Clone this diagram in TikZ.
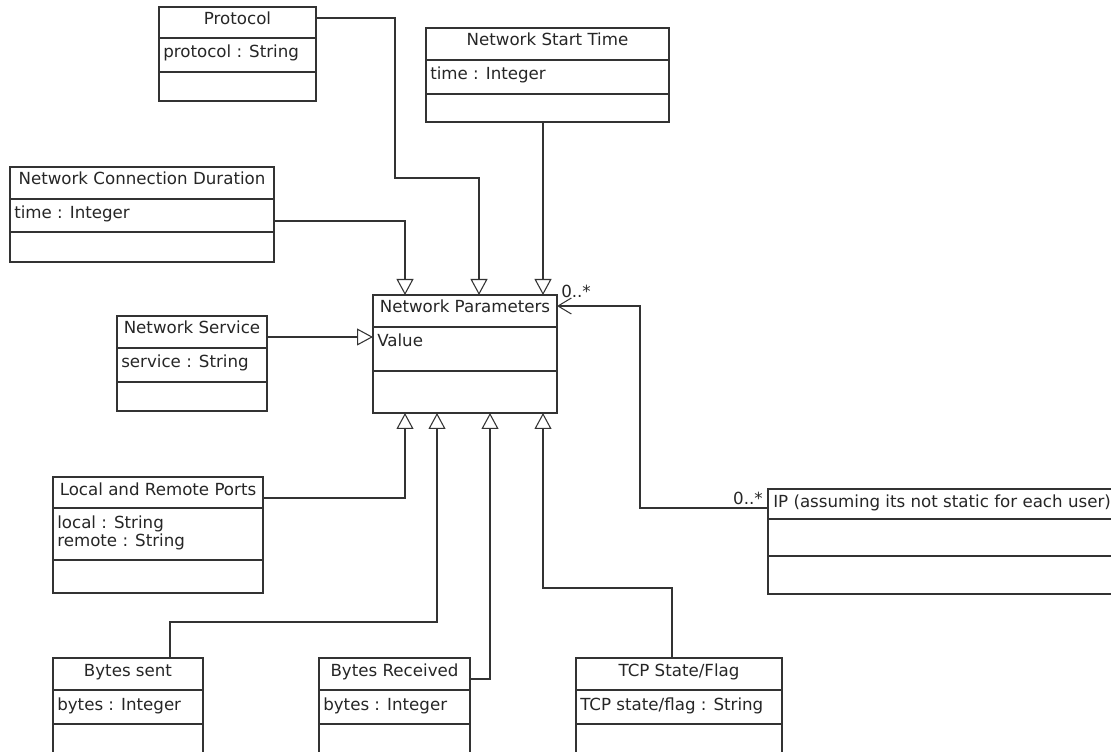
\documentclass[tikz,border=0pt]{standalone}
\usepackage{fontspec}
\setmainfont{DejaVu Sans}
\usetikzlibrary{arrows.meta}

\definecolor{umlline}{HTML}{333333}
\definecolor{umltext}{HTML}{262626}
\newcommand{\umlfont}{\fontsize{12.5pt}{15pt}\selectfont}

\tikzset{
  classbox/.style={draw=umlline, line width=1.1pt, fill=white, inner sep=0pt, outer sep=0pt},
  classrule/.style={draw=umlline, line width=0.9pt},
  titletext/.style={text=umltext, inner sep=0pt, anchor=base, font=\umlfont},
  attrtext/.style={text=umltext, inner sep=0pt, anchor=base west, font=\umlfont},
  conn/.style={draw=umlline, line width=0.8pt},
  generalize/.style={conn, -{Triangle[length=12pt, width=12.75pt, fill=white, line width=0.8pt]}},
  assoc/.style={conn, -{Straight Barb[length=10pt, width=12pt, line width=0.8pt]}},
  mult/.style={text=umltext, inner sep=0pt, font=\umlfont},
}

% \umlclass{name}{left}{top}{width}{title h}{attribute h}{operation h}{title}{attribute}
\newcommand{\umlclass}[9]{%
  \pgfmathsetmacro{\umlbw}{#4*0.75}%
  \pgfmathsetmacro{\umlbh}{(#5+#6+#7)*0.75}%
  \node[classbox, minimum width=\umlbw pt, minimum height=\umlbh pt, anchor=north west] (#1) at (#2,#3) {};
  \draw[classrule] (#2,#3+#5) -- ++(#4,0);
  \draw[classrule] (#2,#3+#5+#6) -- ++(#4,0);
  \node[titletext] (#1-title) at (#2+#4/2,#3+18) {#8};
  \node[attrtext] (#1-attr) at (#2+4,#3+#5+20) {#9};
}

\begin{document}
\begin{tikzpicture}[x=0.75pt, y=-0.75pt]
\useasboundingbox (0,0) rectangle (1111,752);
\fill[white] (0,0) rectangle (1111,752);

% classes
\umlclass{proto}{159}{7}{157}{31}{34}{29}{Protocol}{protocol : String}
\umlclass{nst}{426}{28}{243}{32}{34}{28}{Network Start Time}{time : Integer}
\umlclass{ncd}{10}{167}{264}{32}{33}{30}{Network Connection Duration}{time : Integer}
\umlclass{np}{373}{295}{184}{32}{44}{42}{Network Parameters}{Value}
\umlclass{nserv}{117}{316}{150}{32}{34}{29}{Network Service}{service : String}
\umlclass{ports}{53}{477}{210}{31}{52}{33}{Local and Remote Ports}{local : String}
\node[attrtext] (ports-attr2) at (57,546) {remote : String};
\umlclass{ip}{768}{489}{360}{30}{37}{38}{}{}
\node[attrtext] (ip-title) at (773,507) {IP (assuming its not static for each user)};
\umlclass{bsent}{53}{658}{150}{32}{34}{40}{Bytes sent}{bytes : Integer}
\umlclass{brecv}{319}{658}{151}{32}{34}{40}{Bytes Received}{bytes : Integer}
\umlclass{tcp}{576}{658}{206}{32}{34}{40}{TCP State/Flag}{TCP state/flag : String}

% generalizations into Network Parameters
\draw[generalize] (proto.east |- 0,18) -| (395,178) -| (np.north -| 479,0);
\draw[generalize] (nst.south -| 543,0) -- (np.north -| 543,0);
\draw[generalize] (ncd.east |- 0,221) -| (np.north -| 405,0);
\draw[generalize] (nserv.east |- 0,337) -- (np.west |- 0,337);
\draw[generalize] (ports.east |- 0,498) -| (np.south -| 405,0);
\draw[generalize] (bsent.north -| 170,0) |- (437,622) -- (np.south -| 437,0);
\draw[generalize] (brecv.east |- 0,679) -| (np.south -| 490,0);
\draw[generalize] (tcp.north -| 672,0) |- (543,588) -- (np.south -| 543,0);

% association with IP
\draw[assoc] (ip.west |- 0,508) -| (640,306) -- (np.east |- 0,306);
\node[mult, anchor=base west] (mult-np) at (561,298) {0..*};
\node[mult, anchor=base east] (mult-ip) at (763,504) {0..*};
\end{tikzpicture}
\end{document}
